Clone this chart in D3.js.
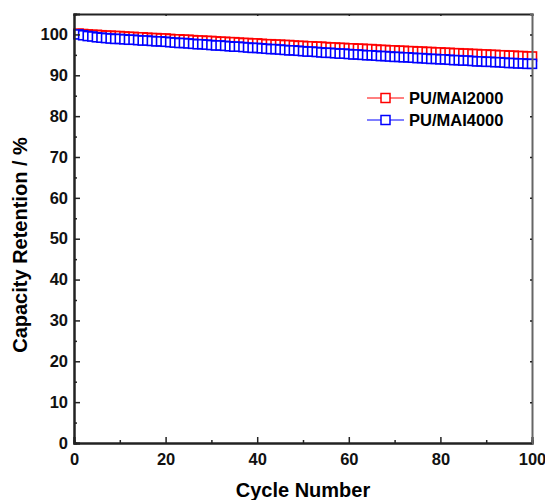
<!DOCTYPE html>
<html>
<head>
<meta charset="utf-8">
<script src="https://cdn.jsdelivr.net/npm/d3@7"></script>
<style>
body{margin:0;background:#fff}
svg text{font-family:"Liberation Sans",Arial,sans-serif;font-weight:bold}
</style>
</head>
<body>
<div id="chart"></div>
<script>
// capacity retention, cycles 1..100
var cycles=d3.range(1,101)
var red2000=[100.2,100.1,100.0,99.9,99.9,99.8,99.7,99.7,99.6,99.6,
 99.5,99.4,99.4,99.3,99.3,99.2,99.1,99.1,99.0,99.0,
 98.9,98.8,98.8,98.7,98.7,98.6,98.5,98.5,98.4,98.4,
 98.3,98.2,98.2,98.1,98.1,98.0,97.9,97.9,97.8,97.8,
 97.7,97.6,97.6,97.5,97.5,97.4,97.4,97.3,97.2,97.2,
 97.1,97.1,97.0,97.0,96.9,96.8,96.8,96.7,96.7,96.6,
 96.6,96.5,96.5,96.4,96.4,96.3,96.2,96.2,96.1,96.1,
 96.0,96.0,95.9,95.9,95.8,95.8,95.7,95.7,95.6,95.6,
 95.5,95.5,95.4,95.4,95.3,95.3,95.2,95.2,95.1,95.1,
 95.0,95.0,94.9,94.9,94.8,94.8,94.7,94.7,94.6,94.6]
var blue4000=[100.0,99.8,99.6,99.5,99.3,99.2,99.1,99.0,98.9,98.9,
 98.8,98.7,98.7,98.6,98.5,98.5,98.4,98.3,98.3,98.2,
 98.1,98.0,97.9,97.9,97.8,97.7,97.6,97.6,97.5,97.4,
 97.3,97.3,97.2,97.1,97.0,97.0,96.9,96.8,96.7,96.7,
 96.6,96.5,96.4,96.4,96.3,96.2,96.1,96.1,96.0,95.9,
 95.8,95.8,95.7,95.6,95.5,95.5,95.4,95.3,95.3,95.2,
 95.1,95.1,95.0,94.9,94.9,94.8,94.7,94.7,94.6,94.5,
 94.5,94.4,94.4,94.3,94.2,94.2,94.1,94.0,94.0,93.9,
 93.9,93.8,93.7,93.7,93.6,93.6,93.5,93.4,93.4,93.3,
 93.3,93.2,93.2,93.1,93.0,93.0,92.9,92.9,92.8,92.8]
var seriesNames=['PU/MAI2000','PU/MAI4000']
var seriesColors=['#ff0000','#0000ff']
var xTicks=[0,20,40,60,80,100]
var yTicks=[0,10,20,30,40,50,60,70,80,90,100]

var W=545,H=500
var m={l:74,r:13,t:14,b:57}
var svg=d3.select('#chart').append('svg')
    .attr('width',W).attr('height',H)

var x=d3.scaleLinear().domain([0,100]).range([m.l,W-m.r])
var y=d3.scaleLinear().domain([0,105]).range([H-m.b,m.t])

var series=[red2000,blue4000]
series.forEach(function(vals,i){
    var pts=cycles.map(function(c,j){return [c,vals[j]]})
    var g=svg.append('g')
    g.append('path')
	.datum(pts)
	.attr('fill','none')
	.attr('stroke',seriesColors[i])
	.attr('stroke-width',1)
	.attr('d',d3.line().x(function(d){return x(d[0])}).y(function(d){return y(d[1])}))
    var s=9
    g.selectAll('rect').data(pts).enter().append('rect')
	.attr('x',function(d){return x(d[0])-s/2})
	.attr('y',function(d){return y(d[1])-s/2})
	.attr('width',s).attr('height',s)
	.attr('fill','#fff')
	.attr('stroke',seriesColors[i])
	.attr('stroke-width',1.6)
})

// axes
var xAx=svg.append('g').attr('transform','translate(0,'+(H-m.b)+')')
    .call(d3.axisBottom(x).tickValues(xTicks).tickSize(-6).tickPadding(10).tickFormat(d3.format('d')))
var xMinor=svg.append('g').attr('transform','translate(0,'+(H-m.b)+')')
    .call(d3.axisBottom(x).tickValues([10,30,50,70,90]).tickSize(-3).tickFormat(''))
var yAx=svg.append('g').attr('transform','translate('+m.l+',0)')
    .call(d3.axisLeft(y).tickValues(yTicks).tickSize(-6).tickPadding(6).tickFormat(d3.format('d')))
var yMinor=svg.append('g').attr('transform','translate('+m.l+',0)')
    .call(d3.axisLeft(y).tickValues(d3.range(5,105,10)).tickSize(-3).tickFormat(''))
var top=svg.append('g').attr('transform','translate(0,'+m.t+')')
    .call(d3.axisTop(x).tickValues(xTicks).tickSize(-2).tickFormat(''))
var right=svg.append('g').attr('transform','translate('+(W-m.r)+',0)')
    .call(d3.axisRight(y).tickValues(yTicks).tickSize(-2).tickFormat(''))

svg.selectAll('.domain').attr('stroke','#222').attr('stroke-width',2)
svg.selectAll('.tick line').attr('stroke','#222').attr('stroke-width',1.5)
svg.selectAll('.tick text').attr('font-size',16.5).attr('fill','#111')
right.select('.domain').attr('stroke','#666')

svg.append('text')
    .attr('x',(m.l+W-m.r)/2).attr('y',H-3)
    .attr('text-anchor','middle').attr('font-size',20)
    .text('Cycle Number')
svg.append('text')
    .attr('transform','translate(27,245) rotate(-90)')
    .attr('text-anchor','middle').attr('font-size',20)
    .text('Capacity Retention / %')

// legend
var leg=svg.append('g')
seriesNames.forEach(function(n,i){
    var ly=98+i*22
    leg.append('line').attr('x1',367).attr('x2',404).attr('y1',ly).attr('y2',ly)
	.attr('stroke',seriesColors[i]).attr('stroke-width',1)
    leg.append('rect').attr('x',381).attr('y',ly-4.5).attr('width',9).attr('height',9)
	.attr('fill','#fff').attr('stroke',seriesColors[i]).attr('stroke-width',1.5)
    leg.append('text').attr('x',409).attr('y',ly+6).attr('font-size',16.5).text(n)
})
</script>
</body>
</html>
